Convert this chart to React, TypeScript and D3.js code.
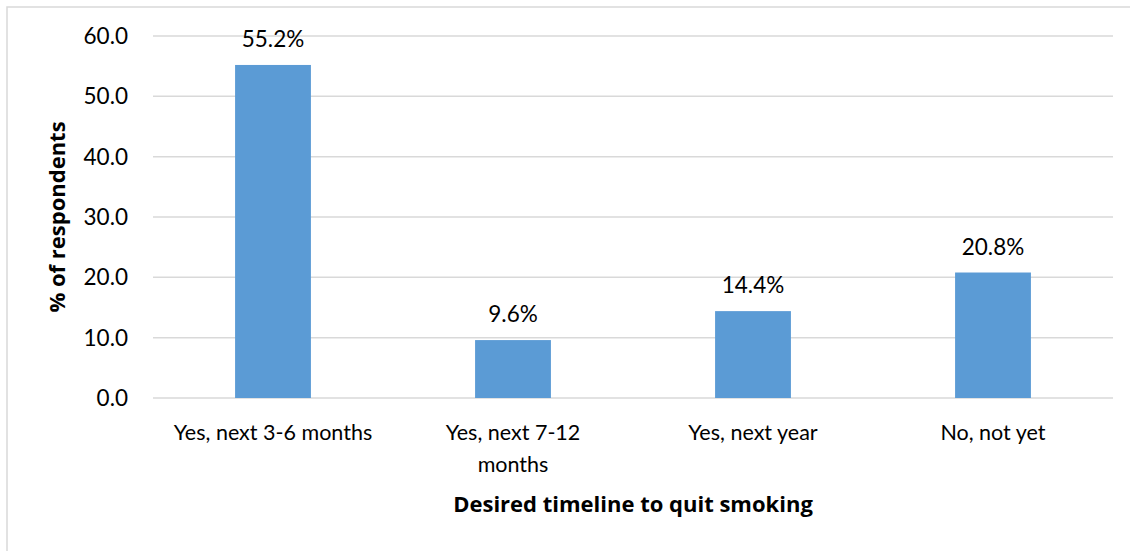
import React from "react";
import * as d3 from "d3";

// Survey responses: desired timeline to quit smoking
const categories: string[][] = [
  ["Yes, next 3-6 months"],
  ["Yes, next 7-12", "months"],
  ["Yes, next year"],
  ["No, not yet"],
];
const percentages: number[] = [55.2, 9.6, 14.4, 20.8];
const yTicks: number[] = [0, 10, 20, 30, 40, 50, 60];

const W = 1130;
const H = 551;
const FONT = "Lato, 'Open Sans', sans-serif";
const TITLE_FONT = "'Open Sans', Lato, sans-serif";
const plot = { left: 153, right: 1113, top: 36, bottom: 398 };

export default function App() {
  const keys = categories.map((c) => c.join(" "));
  const x = d3
    .scaleBand<string>()
    .domain(keys)
    .range([plot.left, plot.right])
    .paddingInner(0.684)
    .paddingOuter(0.342);
  const y = d3.scaleLinear().domain([0, 60]).range([plot.bottom, plot.top]);

  return (
    <svg
      width={W}
      height={H}
      style={{ position: "absolute", left: 0, top: 0, background: "#fff" }}
      fontFamily={FONT}
    >
      <rect x={7} y={7} width={W + 20} height={H + 20} fill="#fff" stroke="#d9d9d9" strokeWidth={1.5} />
      {yTicks.map((t) => (
        <g key={t}>
          <line x1={plot.left} x2={plot.right} y1={y(t)} y2={y(t)} stroke="#d9d9d9" strokeWidth={1.5} />
          <text x={128} y={y(t)} dy="0.36em" textAnchor="end" fontSize={22.5} fill="#000">
            {d3.format(".1f")(t)}
          </text>
        </g>
      ))}
      {percentages.map((v, i) => {
        const k = keys[i];
        const bx = x(k)!;
        return (
          <g key={k}>
            <rect x={bx} y={y(v)} width={x.bandwidth()} height={y(0) - y(v)} fill="#5b9bd5" />
            <text x={bx + x.bandwidth() / 2} y={y(v) - 18} textAnchor="middle" fontSize={22.5} fill="#000">
              {d3.format(".1f")(v)}%
            </text>
          </g>
        );
      })}
      {categories.map((lines, i) => {
        const cx = x(keys[i])! + x.bandwidth() / 2;
        return (
          <text key={i} x={cx} y={440} textAnchor="middle" fontSize={21.5} fill="#000">
            {lines.map((l, j) => (
              <tspan key={j} x={cx} dy={j === 0 ? 0 : 32}>
                {l}
              </tspan>
            ))}
          </text>
        );
      })}
      <text
        x={(plot.left + plot.right) / 2}
        y={512}
        textAnchor="middle"
        fontFamily={TITLE_FONT}
        fontSize={22}
        fontWeight="bold"
        fill="#000"
      >
        Desired timeline to quit smoking
      </text>
      <text
        transform={`translate(65, 217) rotate(-90)`}
        textAnchor="middle"
        fontFamily={TITLE_FONT}
        fontSize={22}
        fontWeight="bold"
        fill="#000"
      >
        % of respondents
      </text>
    </svg>
  );
}
